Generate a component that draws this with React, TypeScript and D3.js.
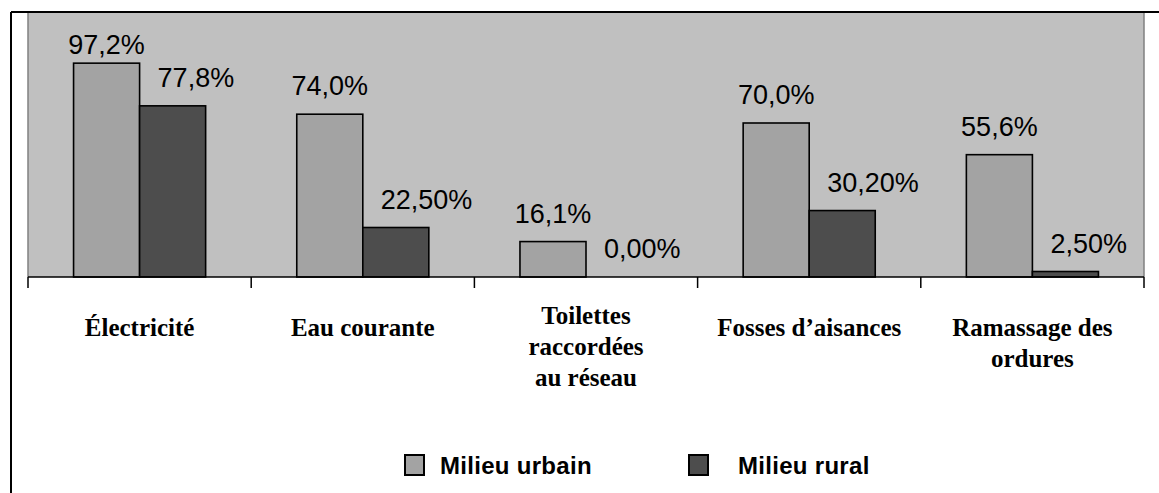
import React from 'react';
import * as d3 from 'd3';

// données
const categories = ['Électricité', 'Eau courante', 'Toilettes raccordées au réseau', 'Fosses d’aisances', 'Ramassage des ordures'];
const categoryLines = [['Électricité'], ['Eau courante'], ['Toilettes', 'raccordées', 'au réseau'], ['Fosses d’aisances'], ['Ramassage des', 'ordures']];
const series = ['Milieu urbain', 'Milieu rural'];
const urbain = [97.2, 74.0, 16.1, 70.0, 55.6];
const rural = [77.8, 22.5, 0.0, 30.2, 2.5];
const urbainLabels = ['97,2%', '74,0%', '16,1%', '70,0%', '55,6%'];
const ruralLabels = ['77,8%', '22,50%', '0,00%', '30,20%', '2,50%'];

const W = 1159;
const H = 493;
const plot = { left: 28, right: 1144, top: 13, bottom: 277 };
const colors = ['#a3a3a3', '#4d4d4d'];

const App: React.FC = () => {
  const x = d3.scaleBand<string>().domain(categories).range([plot.left, plot.right]).padding(0);
  const xs = d3.scaleBand<string>().domain(series).range([0, x.bandwidth()]).paddingInner(0).paddingOuter(0.69);
  const y = d3.scaleLinear().domain([0, 120]).range([plot.bottom, plot.top]);

  const values = [urbain, rural];
  const labels = [urbainLabels, ruralLabels];
  const ticks = [...categories.map(c => x(c)!), plot.right];

  return (
    <svg width={W} height={H} style={{ position: 'absolute', left: 0, top: 0, background: '#fff' }}>
      {/* zone de tracé */}
      <rect x={plot.left} y={plot.top} width={plot.right - plot.left} height={plot.bottom - plot.top} fill="#c0c0c0" />
      <line x1={plot.left} x2={plot.left} y1={plot.top} y2={plot.bottom} stroke="#808080" strokeWidth={1.5} />
      <line x1={plot.right} x2={plot.right} y1={plot.top} y2={plot.bottom} stroke="#808080" strokeWidth={1.5} />

      {/* barres */}
      {series.map((s, si) => (
        <g key={s}>
          {categories.map((c, i) => {
            const bx = x(c)! + xs(s)!;
            const by = y(values[si][i]);
            return (
              <rect key={c} x={bx} y={by} width={xs.bandwidth()} height={plot.bottom - by}
                fill={colors[si]} stroke="#000" strokeWidth={1.6} />
            );
          })}
        </g>
      ))}

      {/* axe */}
      <line x1={plot.left} x2={plot.right} y1={plot.bottom} y2={plot.bottom} stroke="#000" strokeWidth={1.5} />
      {ticks.map((t, i) => (
        <line key={i} x1={t} x2={t} y1={plot.bottom} y2={plot.bottom + 11} stroke="#000" strokeWidth={1.5} />
      ))}

      {/* étiquettes de valeurs */}
      {series.map((s, si) => (
        <g key={s} fontFamily="'Liberation Sans', Arial, sans-serif" fontSize={27} fill="#000">
          {categories.map((c, i) => {
            const bx = x(c)! + xs(s)!;
            const by = y(values[si][i]);
            const ty = Math.max(by - 19, plot.top + 41);
            return si === 0 ? (
              <text key={c} x={bx + xs.bandwidth() / 2} y={ty} textAnchor="middle">{labels[si][i]}</text>
            ) : (
              <text key={c} x={bx + 18} y={ty} textAnchor="start">{labels[si][i]}</text>
            );
          })}
        </g>
      ))}

      {/* catégories */}
      <g fontFamily="'Liberation Serif', 'Times New Roman', serif" fontWeight="bold" fontSize={25} fill="#000" textAnchor="middle">
        {categories.map((c, i) => {
          const lines = categoryLines[i];
          const y0 = plot.bottom + 59 - Math.max(0, lines.length - 2) * 12;
          return (
            <text key={c} x={x(c)! + x.bandwidth() / 2} y={y0}>
              {lines.map((l, li) => (
                <tspan key={li} x={x(c)! + x.bandwidth() / 2} dy={li === 0 ? 0 : 31}>{l}</tspan>
              ))}
            </text>
          );
        })}
      </g>

      {/* légende */}
      <g fontFamily="'Liberation Sans', Arial, sans-serif" fontWeight="bold" fontSize={24} fill="#000">
        <rect x={405} y={455} width={19} height={20} fill={colors[0]} stroke="#000" strokeWidth={2} />
        <text x={440} y={474} letterSpacing={0.3}>{series[0]}</text>
        <rect x={689} y={455} width={19} height={20} fill={colors[1]} stroke="#000" strokeWidth={2} />
        <text x={738} y={474} letterSpacing={0.3}>{series[1]}</text>
      </g>

      {/* cadre */}
      <line x1={11} x2={W} y1={12} y2={12} stroke="#000" strokeWidth={2} />
      <line x1={11} x2={11} y1={12} y2={H} stroke="#000" strokeWidth={2} />
    </svg>
  );
};

export default App;
